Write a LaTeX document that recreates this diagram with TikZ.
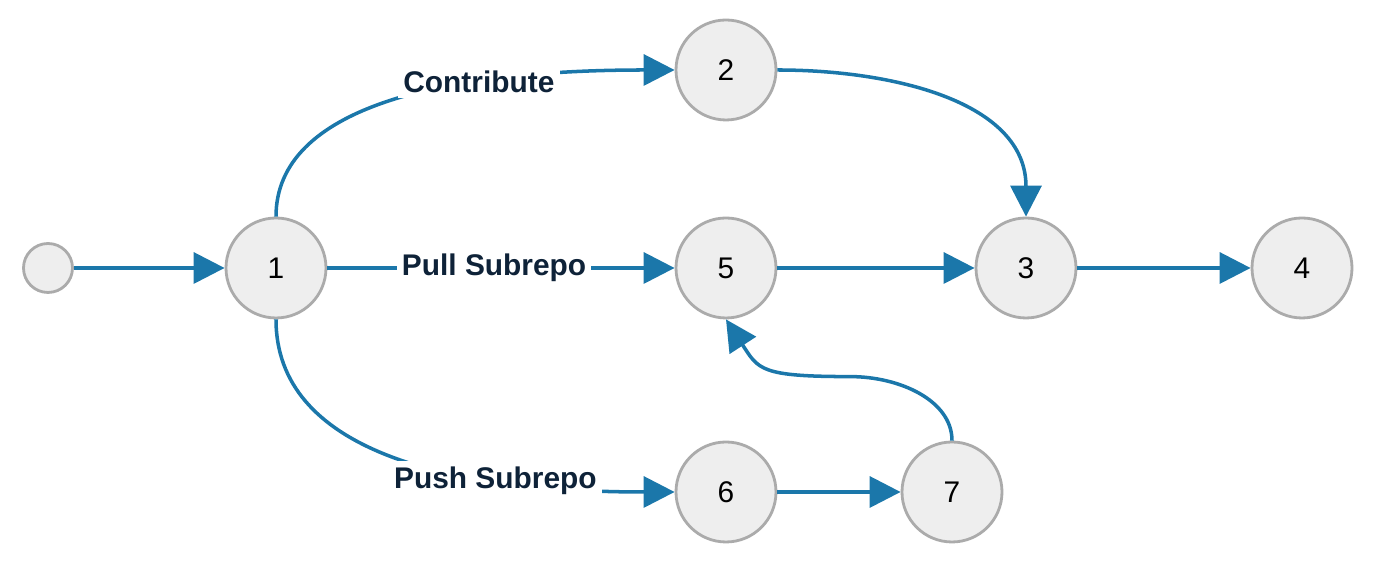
\documentclass[tikz,border=0pt]{standalone}
\usepackage{fontspec}
\setsansfont{Liberation Sans}
\usepackage{xcolor}
\usetikzlibrary{shapes, arrows.meta, positioning}
\definecolor{edgeBlue}{HTML}{1B77AA}
\definecolor{nodeGray}{HTML}{EEEEEE}
\definecolor{borderGray}{HTML}{ABABAB}
\definecolor{labelNavy}{HTML}{0E2238}
\tikzset{%
>={Triangle[width=6.2mm,length=6.2mm]},
% Specifications for style of nodes:
base/.style = {circle, draw=borderGray, line width=1.6pt, fill=nodeGray, inner sep=0pt},
state/.style = {base, minimum size=2cm},
entry/.style = {base, minimum size=0.98cm},
edgeLabel/.style = {fill=white, inner sep=3pt, text=labelNavy, font=\sffamily\bfseries\fontsize{17}{20}\selectfont},
flow/.style = {draw=edgeBlue, line width=2pt},
}

\begin{document}
\begin{tikzpicture}[
        on grid,
        every node/.style={font=\sffamily\fontsize{17}{20}\selectfont}
    ]
    \useasboundingbox (0,0) rectangle (27.64,11.24);
    % Specification of nodes (position, etc.)
    \node (n1) [state] at (5.52,5.88) {1};
    \node (start) [entry, left=4.56cm of n1] {};
    \node (n5) [state, right=9cm of n1] {5};
    \node (n2) [state, above=3.96cm of n5] {2};
    \node (n6) [state, below=4.48cm of n5] {6};
    \node (n7) [state, right=4.52cm of n6] {7};
    \node (n3) [state, right=6cm of n5] {3};
    \node (n4) [state, right=5.52cm of n3] {4};

    \draw [flow, ->] (start) -- (n1);
    \draw [flow, ->] (n1) -- (n5) node[edgeLabel, pos=0.48]{Pull Subrepo};
    \draw [flow, ->] (n1.north) .. controls +(0,2.2) and +(-4.6,0) .. (n2.west) node[edgeLabel, pos=0.685]{Contribute};
    \draw [flow, ->] (n1.south) .. controls +(0,-2.6) and +(-4.6,0) .. (n6.west) node[edgeLabel, pos=0.715]{Push Subrepo};
    \draw [flow, ->] (n2.east) .. controls +(2.3,0) and +(0,2.3) .. (n3.north);
    \draw [flow, ->] (n5) -- (n3);
    \draw [flow, ->] (n3) -- (n4);
    \draw [flow, ->] (n6) -- (n7);
    \draw [flow, ->] (n7.north) .. controls +(0,0.8) and +(1,0) .. ++(-2.04,1.28) .. controls +(-1.8,0) and +(0.65,-1) .. (n5.south);
\end{tikzpicture}
\end{document}
